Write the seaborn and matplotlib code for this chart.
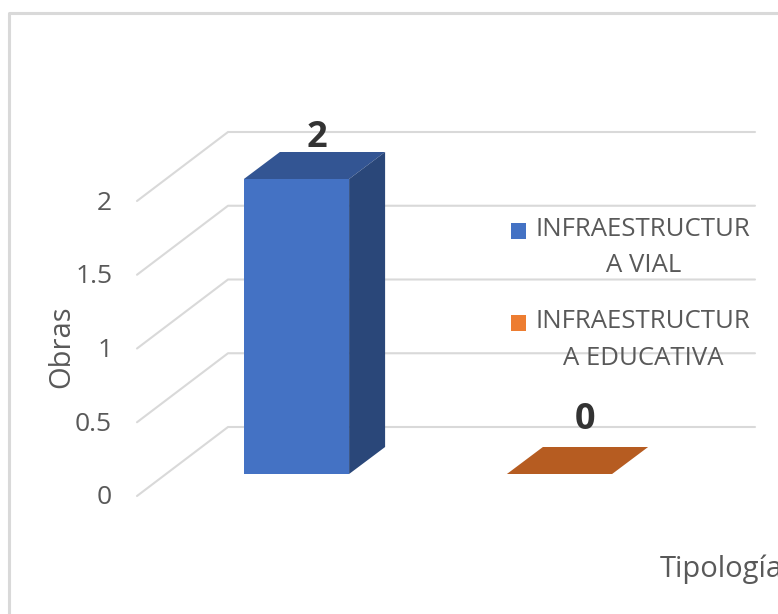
import matplotlib
matplotlib.use("Agg")
import matplotlib.pyplot as plt
import seaborn as sns
import pandas as pd
from matplotlib.lines import Line2D
from matplotlib.patches import Patch, Polygon
from matplotlib.transforms import IdentityTransform, ScaledTranslation

categories = ["INFRAESTRUCTUR\nA VIAL", "INFRAESTRUCTUR\nA EDUCATIVA"]
values = [2, 0]
y_ticks = [0, 0.5, 1, 1.5, 2]
y_tick_labels = ["0", "0.5", "1", "1.5", "2"]
face_colors = ["#4472C4", "#ED7D31"]
top_colors = ["#335593", "#B65C21"]
side_colors = ["#2A4779", "#A85420"]
label_offsets_px = [(20.5, 41), (25.5, 54)]

W, H = 778, 614
sns.set_theme(style="white")
plt.rcParams["font.family"] = ["Open Sans", "DejaVu Sans"]
TEXT = "#595959"
GRID = "#D9D9D9"
FS_TICK = 19
FS_TITLE = 21
FS_LEG = 18.5

fig = plt.figure(figsize=(W / 100, H / 100), dpi=100, facecolor="white")
ax = fig.add_axes([165 / W, (H - 474) / H, 526 / W, 295 / H])
ax.patch.set_alpha(0)

df = pd.DataFrame({"cat": categories, "val": values})
sns.barplot(data=df, x="cat", y="val", hue="cat", palette=face_colors,
            width=0.4, legend=False, saturation=1, ax=ax, linewidth=0, zorder=3)
ax.set_xlim(-0.5, 1.5)
ax.set_ylim(0, 2)
for s in ax.spines.values():
    s.set_visible(False)

# y axis labels sit on the front edge of the floor, 22 px below the bar plane
ax.set_yticks(y_ticks)
ax.set_yticklabels(y_tick_labels, color=TEXT, fontsize=FS_TICK)
ax.tick_params(axis="y", length=0, pad=38)
ax.tick_params(axis="x", length=0, labelbottom=False)
shift = ScaledTranslation(0, -21 / 72 * 0.72, fig.dpi_scale_trans)
for t in ax.get_yticklabels():
    t.set_transform(t.get_transform() + shift)

ident = IdentityTransform()
to_disp = ax.transData.transform
DX, DY = 36, 27  # bar depth in px

# receding wall lines
for v in y_ticks:
    y0 = to_disp((0, v))[1]
    ax.add_line(Line2D([137, 228, 755], [y0 - 22, y0 + 47, y0 + 47], transform=ident,
                       color=GRID, lw=1.5, zorder=1, clip_on=False))

# 3D faces of each bar
bars = list(ax.patches)
for bar, top, side in zip(bars, top_colors, side_colors):
    xa, y_base = to_disp((bar.get_x(), 0))
    xb, y_top = to_disp((bar.get_x() + bar.get_width(), bar.get_height()))
    ax.add_patch(Polygon([(xa, y_top), (xb, y_top), (xb + DX, y_top + DY), (xa + DX, y_top + DY)],
                         closed=True, transform=ident, fc=top, ec="none", zorder=4, clip_on=False))
    if bar.get_height() > 0:
        ax.add_patch(Polygon([(xb, y_base), (xb + DX, y_base + DY), (xb + DX, y_top + DY), (xb, y_top)],
                             closed=True, transform=ident, fc=side, ec="none", zorder=4, clip_on=False))

# data labels
for i, v in enumerate(values):
    ax.annotate(str(v), (i, v), xytext=(label_offsets_px[i][0] * 0.72, label_offsets_px[i][1] * 0.72),
                textcoords="offset points", ha="center", va="center",
                fontsize=26, fontweight="bold", color="#333333", zorder=6, annotation_clip=False)

# axis titles
ax.set_ylabel("")
ax.set_xlabel("")
fig.text(62 / W, (H - 347) / H, "Obras", rotation=90, ha="center", va="center", color=TEXT, fontsize=FS_TITLE)
fig.text(660 / W, (H - 569) / H, "Tipología", ha="left", va="center", color=TEXT, fontsize=FS_TITLE)

# legend
handles = [Patch(facecolor=c, edgecolor="none") for c in face_colors]
leg = ax.legend(handles, categories, loc="upper left", frameon=False, fontsize=FS_LEG,
                bbox_to_anchor=(511 / W, (H - 217) / H), bbox_transform=fig.transFigure,
                handlelength=0.58, handleheight=0.58, handletextpad=0.39,
                labelspacing=1.2, borderpad=0, borderaxespad=0)
leg.set_zorder(7)
for t in leg.get_texts():
    t.set_multialignment("center")
    t.set_color(TEXT)
    t.set_linespacing(1.6)
for p in leg.get_patches():
    p.set_y(p.get_y() + 12.6)

# chart frame, cropped by the picture's right and bottom edges
fig.add_artist(Line2D([8.5 / W, 8.5 / W, 1], [0, (H - 12.5) / H, (H - 12.5) / H],
                      transform=fig.transFigure, color=GRID, lw=2.2))

fig.savefig("out.png", dpi=100)
